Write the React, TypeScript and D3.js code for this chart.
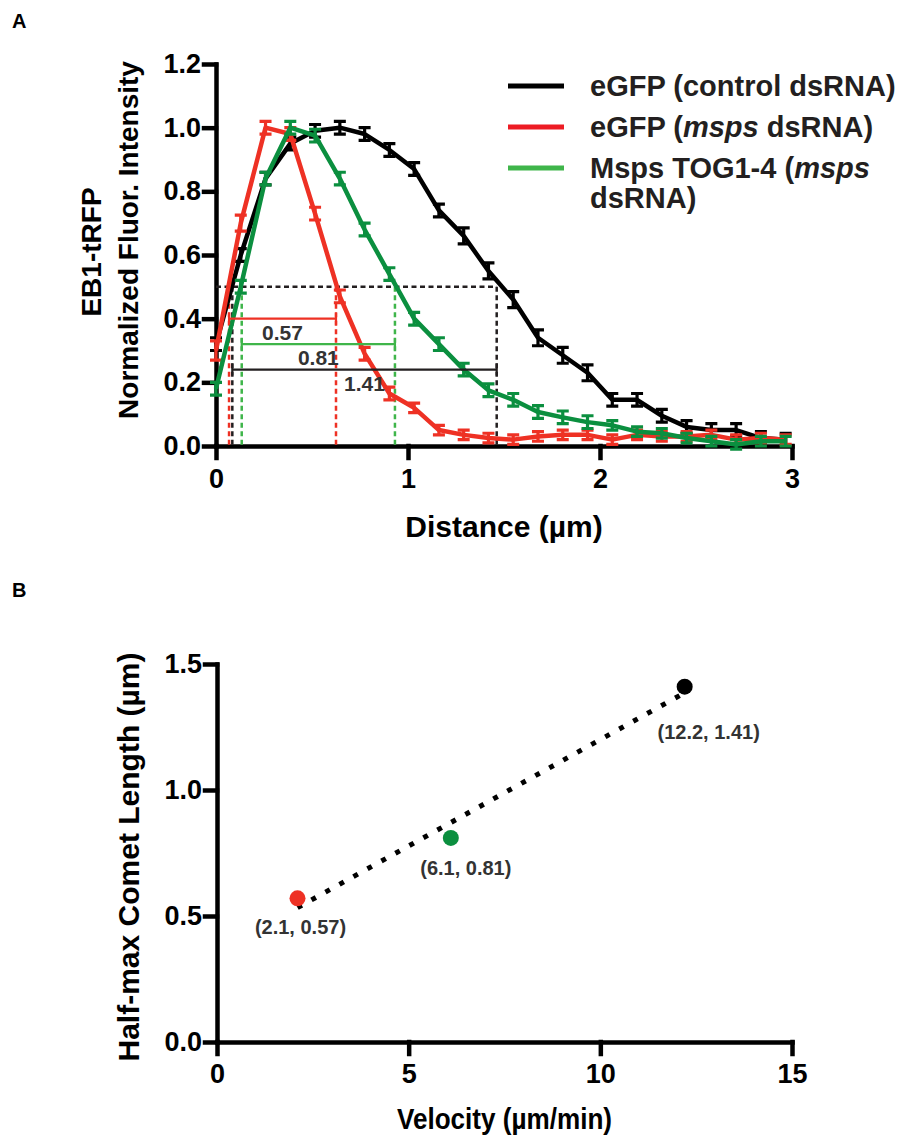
import React, { useEffect, useRef } from 'react';
import * as d3 from 'd3';

// ---- Panel A: EB1-tRFP comet profiles ----
const distance = [0, 0.129, 0.258, 0.387, 0.516, 0.645, 0.774, 0.903, 1.032, 1.161, 1.29, 1.419,
  1.548, 1.677, 1.806, 1.935, 2.064, 2.193, 2.322, 2.451, 2.58, 2.709, 2.838, 2.967];

const controlMean = [0.32, 0.6, 0.84, 0.95, 0.99, 1.0, 0.98, 0.93, 0.87, 0.74, 0.66, 0.55,
  0.46, 0.34, 0.285, 0.23, 0.145, 0.145, 0.095, 0.06, 0.05, 0.05, 0.025, 0.02];
const controlSem = [0.02, 0.02, 0.02, 0.02, 0.02, 0.02, 0.02, 0.02, 0.02, 0.02, 0.025, 0.025,
  0.025, 0.025, 0.025, 0.025, 0.02, 0.02, 0.02, 0.02, 0.02, 0.02, 0.02, 0.02];

const mspsMean = [0.3, 0.7, 1.0, 0.98, 0.73, 0.47, 0.29, 0.165, 0.12, 0.05, 0.035, 0.025,
  0.02, 0.03, 0.035, 0.035, 0.02, 0.035, 0.03, 0.03, 0.035, 0.02, 0.025, 0.02];
const mspsSem = [0.03, 0.025, 0.02, 0.02, 0.02, 0.02, 0.02, 0.02, 0.015, 0.015, 0.015, 0.015,
  0.015, 0.015, 0.015, 0.015, 0.015, 0.015, 0.015, 0.015, 0.015, 0.015, 0.015, 0.015];

const togMean = [0.18, 0.5, 0.84, 1.0, 0.975, 0.84, 0.68, 0.54, 0.4, 0.32, 0.24, 0.175,
  0.145, 0.107, 0.09, 0.075, 0.065, 0.045, 0.04, 0.025, 0.015, 0.005, 0.015, 0.015];
const togSem = [0.02, 0.02, 0.02, 0.02, 0.02, 0.02, 0.02, 0.02, 0.02, 0.02, 0.02, 0.02,
  0.02, 0.02, 0.02, 0.02, 0.015, 0.015, 0.015, 0.015, 0.015, 0.015, 0.015, 0.015];

// half-max widths: control, msps, TOG1-4
const halfMaxFrom = [0.085, 0.068, 0.134];
const halfMaxTo = [1.462, 0.625, 0.932];
const halfMaxBarY = [0.24, 0.4, 0.32];
const halfMaxText = ['1.41', '0.57', '0.81'];

const legendLabels = [
  [{ t: 'eGFP (control dsRNA)' }],
  [{ t: 'eGFP (' }, { t: 'msps', i: true }, { t: ' dsRNA)' }],
  [{ t: 'Msps TOG1-4 (' }, { t: 'msps', i: true }],
];

// ---- Panel B: velocity vs comet length ----
const velocity = [2.1, 6.1, 12.2];
const cometLength = [0.57, 0.81, 1.41];
const pointLabels = ['(2.1, 0.57)', '(6.1, 0.81)', '(12.2, 1.41)'];

const FONT = '"Liberation Sans", Arial, Helvetica, sans-serif';
const BLACK = '#000000';
const RED = '#ee3124';
const GREEN = '#0b8f3f';
const LIGHT_GREEN = '#3fb54a';
const seriesColor = [BLACK, RED, GREEN];
const guideColor = ['#231f20', RED, LIGHT_GREEN];

const styleAxis = (g: any, fontSize: number) => {
  g.attr('font-family', FONT);
  g.selectAll('path.domain').attr('stroke', '#000').attr('stroke-width', 4.5).attr('stroke-linecap', 'square');
  g.selectAll('.tick line').attr('stroke', '#000').attr('stroke-width', 4.5).attr('stroke-linecap', 'square');
  g.selectAll('.tick text')
    .attr('font-size', fontSize)
    .attr('font-weight', 'bold')
    .attr('font-family', FONT)
    .attr('fill', '#000');
};

export default function App() {
  const svgRef = useRef<SVGSVGElement>(null);

  useEffect(() => {
    const svg = d3.select(svgRef.current);
    svg.selectAll('*').remove();
    svg.attr('font-family', FONT).attr('font-weight', 'bold');

    // panel letters
    svg.append('text').attr('x', 12).attr('y', 28).attr('font-size', 20).text('A');
    svg.append('text').attr('x', 12).attr('y', 597).attr('font-size', 20).text('B');

    // ================= PANEL A =================
    const xA = d3.scaleLinear().domain([0, 3]).range([216, 792]);
    const yA = d3.scaleLinear().domain([0, 1.2]).range([446, 64]);

    const yAxA = svg.append('g').attr('transform', `translate(${xA(0)},0)`)
      .call(d3.axisLeft(yA).tickValues([0, 0.2, 0.4, 0.6, 0.8, 1.0, 1.2]).tickFormat(d3.format('.1f'))
        .tickSize(12).tickSizeOuter(0).tickPadding(3));
    styleAxis(yAxA, 27);
    const xAxA = svg.append('g').attr('transform', `translate(0,${yA(0)})`)
      .call(d3.axisBottom(xA).tickValues([0, 1, 2, 3]).tickFormat(d3.format('d'))
        .tickSize(12).tickSizeOuter(0).tickPadding(11));
    styleAxis(xAxA, 27);

    svg.append('text')
      .attr('x', (xA(0) + xA(3)) / 2).attr('y', 537)
      .attr('text-anchor', 'middle').attr('font-size', 30)
      .text('Distance (µm)');

    svg.append('text')
      .attr('transform', `translate(101,252) rotate(-90)`)
      .attr('text-anchor', 'middle').attr('font-size', 28)
      .text('EB1-tRFP');
    svg.append('text')
      .attr('transform', `translate(138,240) rotate(-90)`)
      .attr('text-anchor', 'middle').attr('font-size', 28)
      .text('Normalized Fluor. Intensity');

    // half-max guides (dashed)
    const guides = svg.append('g').attr('fill', 'none').attr('stroke-width', 2.5).attr('stroke-dasharray', '5 3.5');
    guides.append('line')
      .attr('x1', xA(0)).attr('x2', xA(d3.max(halfMaxTo) as number))
      .attr('y1', yA(0.5)).attr('y2', yA(0.5))
      .attr('stroke', '#231f20');
    [0, 1, 2].forEach((k) => {
      [halfMaxFrom[k], halfMaxTo[k]].forEach((v) => {
        guides.append('line')
          .attr('x1', xA(v)).attr('x2', xA(v))
          .attr('y1', yA(0.5)).attr('y2', yA(0))
          .attr('stroke', guideColor[k]);
      });
    });

    // curves
    const means = [controlMean, mspsMean, togMean];
    const sems = [controlSem, mspsSem, togSem];
    const line = d3.line<number>().x((_, i) => xA(distance[i])).y((d) => yA(d));
    means.forEach((m, k) => {
      const g = svg.append('g');
      g.append('path')
        .attr('d', line(m))
        .attr('fill', 'none')
        .attr('stroke', seriesColor[k])
        .attr('stroke-width', 4.5)
        .attr('stroke-linejoin', 'round');
      const capW = 6;
      m.forEach((v, i) => {
        const x = xA(distance[i]);
        const y1 = yA(v + sems[k][i]);
        const y2 = yA(v - sems[k][i]);
        g.append('path')
          .attr('d', `M${x},${y1}V${y2}M${x - capW},${y1}H${x + capW}M${x - capW},${y2}H${x + capW}`)
          .attr('fill', 'none')
          .attr('stroke', seriesColor[k])
          .attr('stroke-width', 3.2);
      });
    });

    // half-max bars + labels
    [1, 2, 0].forEach((k) => {
      const y = yA(halfMaxBarY[k]);
      const x1 = xA(halfMaxFrom[k]);
      const x2 = xA(halfMaxTo[k]);
      svg.append('path')
        .attr('d', `M${x1},${y}H${x2}M${x1},${y - 6}V${y + 6}M${x2},${y - 6}V${y + 6}`)
        .attr('fill', 'none')
        .attr('stroke', guideColor[k])
        .attr('stroke-width', 2.2);
      svg.append('text')
        .attr('x', (x1 + x2) / 2).attr('y', y + 21)
        .attr('text-anchor', 'middle').attr('font-size', 21)
        .attr('fill', '#333333')
        .text(halfMaxText[k]);
    });

    // legend
    const legendColor = ['#000000', '#ed1c24', LIGHT_GREEN];
    const legendY = [86, 127, 168];
    legendLabels.forEach((parts, k) => {
      svg.append('line')
        .attr('x1', 508).attr('x2', 564)
        .attr('y1', legendY[k]).attr('y2', legendY[k])
        .attr('stroke', legendColor[k]).attr('stroke-width', 5);
      const t = svg.append('text')
        .attr('x', 590).attr('y', legendY[k] + 10)
        .attr('font-size', 29).attr('fill', '#231f20');
      parts.forEach((p: any) => {
        t.append('tspan').attr('font-style', p.i ? 'italic' : 'normal').text(p.t);
      });
    });
    svg.append('text')
      .attr('x', 590).attr('y', 208)
      .attr('font-size', 29).attr('fill', '#231f20')
      .text('dsRNA)');

    // ================= PANEL B =================
    const xB = d3.scaleLinear().domain([0, 15]).range([217, 792]);
    const yB = d3.scaleLinear().domain([0, 1.5]).range([1042, 664]);

    const yAxB = svg.append('g').attr('transform', `translate(${xB(0)},0)`)
      .call(d3.axisLeft(yB).tickValues([0, 0.5, 1.0, 1.5]).tickFormat(d3.format('.1f'))
        .tickSize(12).tickSizeOuter(0).tickPadding(3));
    styleAxis(yAxB, 27);
    const xAxB = svg.append('g').attr('transform', `translate(0,${yB(0)})`)
      .call(d3.axisBottom(xB).tickValues([0, 5, 10, 15]).tickFormat(d3.format('d'))
        .tickSize(12).tickSizeOuter(0).tickPadding(10));
    styleAxis(xAxB, 27);

    svg.append('text')
      .attr('transform', `translate(${(xB(0) + xB(15)) / 2},1129) scale(0.9,1)`)
      .attr('text-anchor', 'middle').attr('font-size', 29)
      .text('Velocity (µm/min)');
    svg.append('text')
      .attr('transform', `translate(139,857) rotate(-90)`)
      .attr('text-anchor', 'middle').attr('font-size', 30)
      .text('Half-max Comet Length (µm)');

    // linear fit
    const mx = d3.mean(velocity) as number;
    const my = d3.mean(cometLength) as number;
    const sxy = d3.sum(velocity, (v, i) => (v - mx) * (cometLength[i] - my));
    const sxx = d3.sum(velocity, (v) => (v - mx) * (v - mx));
    const slope = sxy / sxx;
    const icpt = my - slope * mx;
    const [vMin, vMax] = d3.extent(velocity) as [number, number];
    svg.append('line')
      .attr('x1', xB(vMin)).attr('y1', yB(icpt + slope * vMin))
      .attr('x2', xB(vMax)).attr('y2', yB(icpt + slope * vMax))
      .attr('stroke', '#000').attr('stroke-width', 5)
      .attr('stroke-dasharray', '5 11');

    const dotColor = [RED, GREEN, BLACK];
    const labelOffset = [[3, 36], [15, 37], [24, 52]];
    velocity.forEach((v, i) => {
      svg.append('circle')
        .attr('cx', xB(v)).attr('cy', yB(cometLength[i]))
        .attr('r', 8).attr('fill', dotColor[i]);
      svg.append('text')
        .attr('x', xB(v) + labelOffset[i][0]).attr('y', yB(cometLength[i]) + labelOffset[i][1])
        .attr('text-anchor', 'middle').attr('font-size', 20)
        .attr('fill', '#333333')
        .text(pointLabels[i]);
    });
  }, []);

  return (
    <div>
      <style>{'body { margin: 0; }'}</style>
      <svg ref={svgRef} width={905} height={1138} style={{ display: 'block', background: '#fff' }} />
    </div>
  );
}
